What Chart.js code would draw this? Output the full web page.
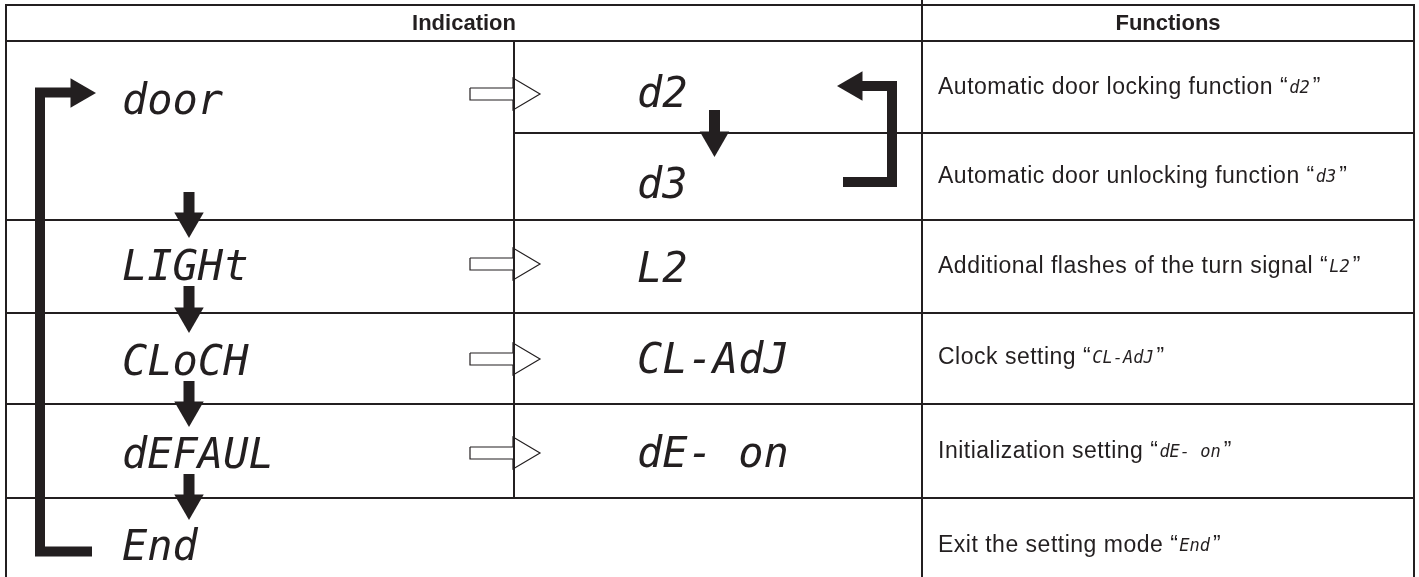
<!DOCTYPE html>
<html>
<head>
<meta charset="utf-8">
<script src="https://cdn.jsdelivr.net/npm/chart.js@4.4.1/dist/chart.umd.min.js"></script>
<style>
    html, body { margin: 0; padding: 0; background: #fff; }
    #wrap { width: 1419px; height: 577px; position: relative; }
</style>
</head>
<body>
<div id="wrap"><canvas id="menu-chart"></canvas></div>
<script>
// Table content
const headers = ['Indication', 'Functions'];
const indications = ['door', 'LIGHt', 'CLoCH', 'dEFAUL', 'End'];
const settings = ['d2', 'd3', 'L2', 'CL-AdJ', 'dE- on'];
const functionNames = [
    'Automatic door locking function',
    'Automatic door unlocking function',
    'Additional flashes of the turn signal',
    'Clock setting',
    'Initialization setting',
    'Exit the setting mode'
];
const functionCodes = ['d2', 'd3', 'L2', 'CL-AdJ', 'dE- on', 'End'];

// Layout of the table (canvas units, the axes map 1:1)
const colEdges = [6, 514, 922, 1414];
const rowEdges = [5, 41, 220, 313, 404, 498, 592];
const doorSplit = 133;                              // line between d2 and d3
const indicationBase = [114, 280, 375, 468, 560];   // baselines of the display words
const settingBase = [107, 198, 282, 373, 467];
const functionMid = [88, 177, 267, 358, 452, 546];
const hollowArrowY = [94, 264, 359, 453];
const flowTop = [192, 286, 381, 474];               // down arrows in the left column
const flowTip = [238, 333, 427, 520];
const flowX = 189;

const ink = '#231f20';
const lcdFont = "italic 42px 'DejaVu Sans Mono'";
const lcdSmall = "italic 17px 'DejaVu Sans Mono'";
const bodyFont = "23px 'Liberation Sans', Arial, sans-serif";
const headFont = "bold 22px 'Liberation Sans', Arial, sans-serif";

function path(points, width, cap) {
    return {
        showLine: true,
        data: points.map(p => ({ x: p[0], y: p[1] })),
        borderColor: ink,
        borderWidth: width,
        borderCapStyle: cap || 'butt',
        borderJoinStyle: 'miter',
        pointRadius: 0,
        tension: 0,
        fill: false
    };
}

const datasets = [];

// Grid lines
const left = colEdges[0], right = colEdges[3];
rowEdges.slice(0, 6).forEach(y => datasets.push(path([[left, y], [right, y]], 2, 'square')));
datasets.push(path([[colEdges[1], doorSplit], [right, doorSplit]], 2, 'square'));
datasets.push(path([[left, rowEdges[0]], [left, rowEdges[6]]], 2, 'square'));
datasets.push(path([[colEdges[2], 0], [colEdges[2], rowEdges[6]]], 2, 'square'));
datasets.push(path([[right, rowEdges[0]], [right, rowEdges[6]]], 2, 'square'));
datasets.push(path([[colEdges[1], rowEdges[1]], [colEdges[1], rowEdges[5]]], 2, 'square'));

// Big loop back to "door"
datasets.push(path([[71, 92.5], [40, 92.5], [40, 551.5], [92, 551.5]], 10));
// Return bracket d3 -> d2
datasets.push(path([[862, 86], [892, 86], [892, 182], [843, 182]], 10));
// Shaft d2 -> d3
datasets.push(path([[714.5, 110], [714.5, 133]], 11));
// Shafts in the left column
flowTop.forEach((t, i) => datasets.push(path([[flowX, t], [flowX, flowTip[i] - 24]], 11)));

// Hollow arrows towards the setting column
hollowArrowY.forEach(y => {
    const base = colEdges[1] - 1;
    datasets.push(path([
        [base - 43, y - 6], [base, y - 6], [base, y - 16], [base + 27, y],
        [base, y + 16], [base, y + 6], [base - 43, y + 6], [base - 43, y - 6]
    ], 1.2));
});

// Arrow heads (triangles)
const headR = 17;
const heads = [
    { x: 96 - headR, y: 93, r: 90 },
    { x: 837 + headR, y: 86, r: 270 },
    { x: 714.5, y: 157 - headR, r: 180 }
].concat(flowTip.map(t => ({ x: flowX, y: t - headR, r: 180 })));
datasets.push({
    data: heads.map(h => ({ x: h.x, y: h.y })),
    pointStyle: 'triangle',
    pointRotation: heads.map(h => h.r),
    pointRadius: headR,
    pointBorderWidth: 0,
    pointBackgroundColor: ink,
    showLine: false
});

// Text of the table
const textPlugin = {
    id: 'tableText',
    afterDraw(chart) {
        const ctx = chart.ctx;
        const sx = v => chart.scales.x.getPixelForValue(v);
        const sy = v => chart.scales.y.getPixelForValue(v);
        ctx.save();
        ctx.fillStyle = ink;

        ctx.font = headFont;
        ctx.textAlign = 'center';
        ctx.textBaseline = 'middle';
        const headMid = (rowEdges[0] + rowEdges[1]) / 2 + 1;
        ctx.fillText(headers[0], sx((colEdges[0] + colEdges[2]) / 2), sy(headMid));
        ctx.fillText(headers[1], sx((colEdges[2] + colEdges[3]) / 2), sy(headMid));

        ctx.textAlign = 'left';
        ctx.textBaseline = 'alphabetic';
        ctx.font = lcdFont;
        indications.forEach((t, i) => ctx.fillText(t, sx(122), sy(indicationBase[i])));
        settings.forEach((t, i) => ctx.fillText(t, sx(637), sy(settingBase[i])));

        ctx.textBaseline = 'middle';
        functionNames.forEach((t, i) => {
            let x = sx(938);
            const y = sy(functionMid[i]);
            ctx.font = bodyFont;
            ctx.letterSpacing = '0.5px';
            const lead = t + ' \u201C';
            ctx.fillText(lead, x, y);
            x += ctx.measureText(lead).width + 1;
            ctx.letterSpacing = '0px';
            ctx.font = lcdSmall;
            ctx.fillText(functionCodes[i], x, y + 1);
            x += ctx.measureText(functionCodes[i]).width + 3;
            ctx.font = bodyFont;
            ctx.fillText('\u201D', x, y);
        });
        ctx.restore();
    }
};

new Chart(document.getElementById('menu-chart'), {
    type: 'scatter',
    data: { datasets: datasets },
    options: {
        animation: false,
        responsive: true,
        maintainAspectRatio: false,
        events: [],
        layout: { padding: 0, autoPadding: false },
        plugins: { legend: { display: false }, tooltip: { enabled: false } },
        scales: {
            x: { type: 'linear', min: 0, max: 1419, display: false },
            y: { type: 'linear', min: 0, max: 577, reverse: true, display: false }
        }
    },
    plugins: [textPlugin]
});
</script>
</body>
</html>
